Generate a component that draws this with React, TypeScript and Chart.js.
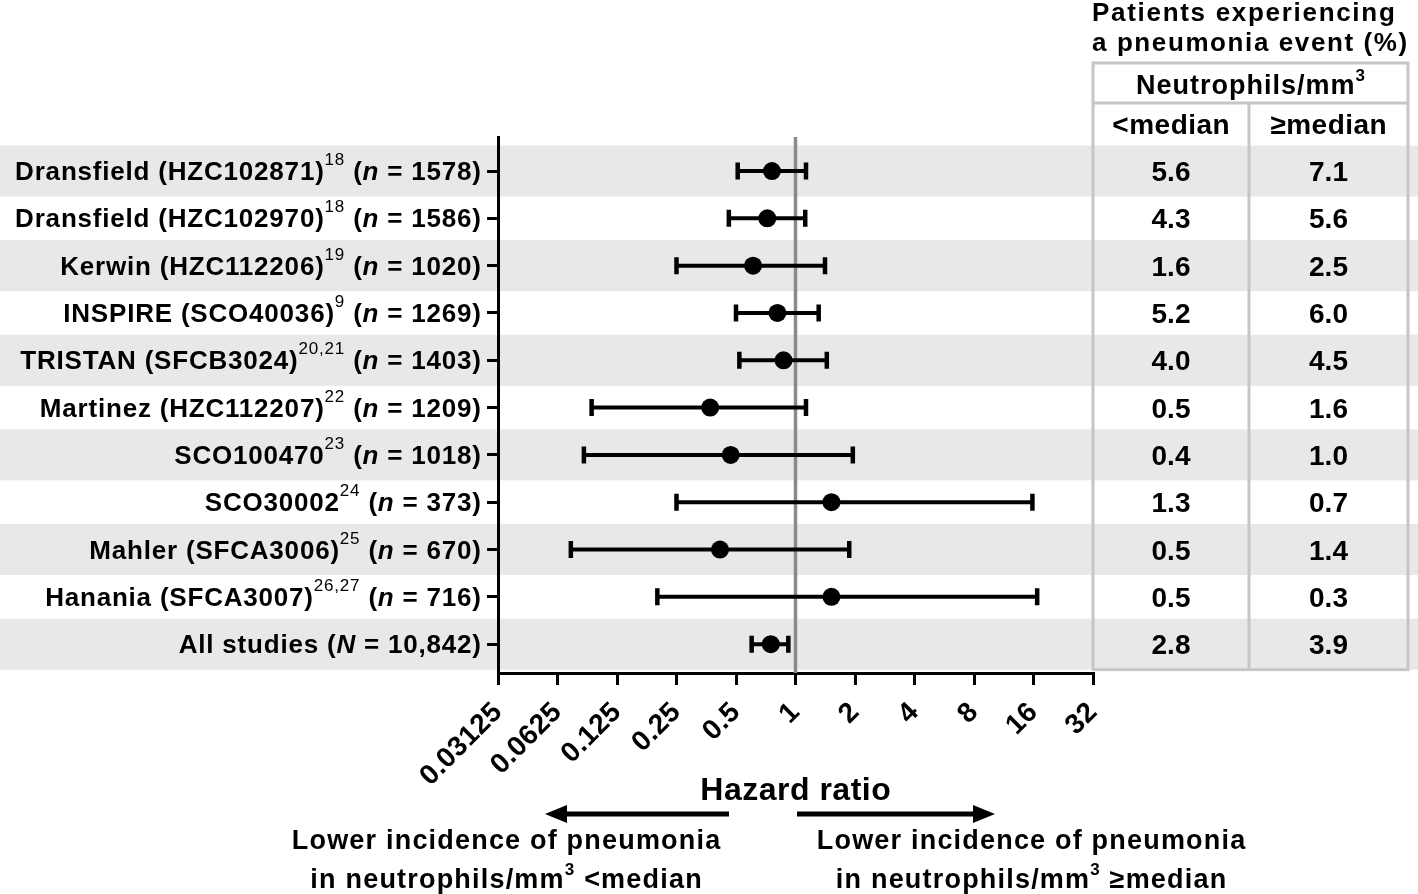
import React, { useEffect, useRef } from 'react';
import { Chart, registerables } from 'chart.js';

Chart.register(...registerables);

const FONT = '"Liberation Sans", Arial, Helvetica, sans-serif';

// ---- data ----
const studyNames = [
  'Dransfield (HZC102871)',
  'Dransfield (HZC102970)',
  'Kerwin (HZC112206)',
  'INSPIRE (SCO40036)',
  'TRISTAN (SFCB3024)',
  'Martinez (HZC112207)',
  'SCO100470',
  'SCO30002',
  'Mahler (SFCA3006)',
  'Hanania (SFCA3007)',
  'All studies',
];
const studyRefs = ['18', '18', '19', '9', '20,21', '22', '23', '24', '25', '26,27', ''];
const sampleSymbol = ['n', 'n', 'n', 'n', 'n', 'n', 'n', 'n', 'n', 'n', 'N'];
const sampleSize = ['1578', '1586', '1020', '1269', '1403', '1209', '1018', '373', '670', '716', '10,842'];

const hazardRatio = [0.76, 0.72, 0.61, 0.81, 0.87, 0.37, 0.47, 1.52, 0.415, 1.52, 0.75];
const ciLower = [0.51, 0.46, 0.25, 0.5, 0.52, 0.093, 0.085, 0.25, 0.073, 0.2, 0.6];
const ciUpper = [1.13, 1.12, 1.41, 1.31, 1.44, 1.13, 1.95, 15.8, 1.87, 16.7, 0.92];

const pctBelowMedian = [5.6, 4.3, 1.6, 5.2, 4.0, 0.5, 0.4, 1.3, 0.5, 0.5, 2.8];
const pctAboveMedian = [7.1, 5.6, 2.5, 6.0, 4.5, 1.6, 1.0, 0.7, 1.4, 0.3, 3.9];

const xTickValues = [0.03125, 0.0625, 0.125, 0.25, 0.5, 1, 2, 4, 8, 16, 32];
const xTickLabels = ['0.03125', '0.0625', '0.125', '0.25', '0.5', '1', '2', '4', '8', '16', '32'];

const xTitle = 'Hazard ratio';
const tableTitle = ['Patients experiencing', 'a pneumonia event (%)'];
const tableGroup = 'Neutrophils/mm';
const tableCols = ['<median', '\u2265median'];
const leftNoteLines = ['Lower incidence of pneumonia', 'in neutrophils/mm', ' <median'];
const rightNoteLines = ['Lower incidence of pneumonia', 'in neutrophils/mm', ' \u2265median'];

type Seg = { t: string; size: number; italic?: boolean; regular?: boolean; dy?: number };

function segFont(s: Seg) {
  return `${s.italic ? 'italic ' : ''}${s.regular ? 'normal' : 'bold'} ${s.size}px ${FONT}`;
}

function drawRich(
  ctx: CanvasRenderingContext2D,
  segs: Seg[],
  x: number,
  y: number,
  align: 'left' | 'right' | 'center',
  spacing: number
) {
  (ctx as any).letterSpacing = spacing + 'px';
  ctx.textAlign = 'left';
  ctx.textBaseline = 'alphabetic';
  ctx.fillStyle = '#000';
  const widths = segs.map((s) => {
    ctx.font = segFont(s);
    return ctx.measureText(s.t).width;
  });
  const total = widths.reduce((a, b) => a + b, 0) - spacing;
  let cx = align === 'right' ? x - total : align === 'center' ? x - total / 2 : x;
  segs.forEach((s, i) => {
    ctx.font = segFont(s);
    ctx.fillText(s.t, cx, y + (s.dy || 0));
    cx += widths[i];
  });
}

function arrow(ctx: CanvasRenderingContext2D, x0: number, x1: number, y: number) {
  const dir = Math.sign(x1 - x0);
  const head = 22;
  ctx.strokeStyle = '#000';
  ctx.fillStyle = '#000';
  ctx.lineWidth = 5;
  ctx.beginPath();
  ctx.moveTo(x0, y);
  ctx.lineTo(x1 - dir * head, y);
  ctx.stroke();
  ctx.beginPath();
  ctx.moveTo(x1, y);
  ctx.lineTo(x1 - dir * head, y - 9);
  ctx.lineTo(x1 - dir * head, y + 9);
  ctx.closePath();
  ctx.fill();
}

const forestPlugin = {
  id: 'forest',
  beforeDraw(chart: any) {
    const { ctx, width } = chart;
    const ys = chart.scales.y;
    ctx.save();
    ctx.fillStyle = '#fff';
    ctx.fillRect(0, 0, chart.width, chart.height);
    ctx.fillStyle = '#e8e8e8';
    studyNames.forEach((_, i) => {
      if (i % 2 === 0) {
        const py = ys.getPixelForValue(i);
        ctx.fillRect(0, py - 25.5, width, 51);
      }
    });
    ctx.restore();
    ctx.letterSpacing = '0.3px';
  },
  beforeDatasetsDraw(chart: any) {
    const { ctx, chartArea } = chart;
    const xs = chart.scales.x;
    const ys = chart.scales.y;
    ctx.save();
    // reference line at HR = 1
    const x1 = xs.getPixelForValue(1);
    ctx.strokeStyle = '#8a8a8a';
    ctx.lineWidth = 3.5;
    ctx.beginPath();
    ctx.moveTo(x1, chartArea.top);
    ctx.lineTo(x1, chartArea.bottom);
    ctx.stroke();
    // confidence intervals
    ctx.strokeStyle = '#000';
    hazardRatio.forEach((_, i) => {
      const py = ys.getPixelForValue(i);
      const xl = xs.getPixelForValue(ciLower[i]);
      const xh = xs.getPixelForValue(ciUpper[i]);
      ctx.lineWidth = 4;
      ctx.beginPath();
      ctx.moveTo(xl, py);
      ctx.lineTo(xh, py);
      ctx.stroke();
      ctx.lineWidth = 4.5;
      ctx.beginPath();
      ctx.moveTo(xl, py - 8.5);
      ctx.lineTo(xl, py + 8.5);
      ctx.moveTo(xh, py - 8.5);
      ctx.lineTo(xh, py + 8.5);
      ctx.stroke();
    });
    ctx.restore();
  },
  afterDraw(chart: any) {
    const { ctx, chartArea } = chart;
    const xs = chart.scales.x;
    const ys = chart.scales.y;
    ctx.save();

    // row labels
    studyNames.forEach((name, i) => {
      const py = ys.getPixelForValue(i);
      const segs: Seg[] = [{ t: name, size: 26 }];
      if (studyRefs[i]) segs.push({ t: studyRefs[i], size: 17, regular: true, dy: -15 });
      segs.push({ t: ' (', size: 26 });
      segs.push({ t: sampleSymbol[i], size: 26, italic: true });
      segs.push({ t: ' = ' + sampleSize[i] + ')', size: 26 });
      drawRich(ctx, segs, chartArea.left - 17, py + 9, 'right', 0.8);
    });

    // table
    const tLeft = chartArea.right;
    const tRight = 1408;
    const tTop = 63;
    const tBottom = ys.getPixelForValue(studyNames.length - 1) + 25.5;
    const tMid = 1249;
    const headLine = 103;
    ctx.strokeStyle = '#c6c6c6';
    ctx.lineWidth = 3;
    ctx.strokeRect(tLeft, tTop, tRight - tLeft, tBottom - tTop);
    ctx.beginPath();
    ctx.moveTo(tLeft, headLine);
    ctx.lineTo(tRight, headLine);
    ctx.moveTo(tMid, headLine);
    ctx.lineTo(tMid, tBottom);
    ctx.stroke();

    drawRich(ctx, [{ t: tableTitle[0], size: 26 }], tLeft - 1, 21, 'left', 1.7);
    drawRich(ctx, [{ t: tableTitle[1], size: 26 }], tLeft - 1, 51, 'left', 1.6);
    drawRich(
      ctx,
      [
        { t: tableGroup, size: 27 },
        { t: '3', size: 17, dy: -13 },
      ],
      (tLeft + tRight) / 2,
      94,
      'center',
      1.0
    );
    const c1 = (tLeft + tMid) / 2;
    const c2 = (tMid + tRight) / 2;
    drawRich(ctx, [{ t: tableCols[0], size: 28 }], c1, 134, 'center', 0.5);
    drawRich(ctx, [{ t: tableCols[1], size: 28 }], c2, 134, 'center', 0.5);
    pctBelowMedian.forEach((v, i) => {
      const py = ys.getPixelForValue(i);
      drawRich(ctx, [{ t: v.toFixed(1), size: 28 }], c1, py + 10, 'center', 0);
      drawRich(ctx, [{ t: pctAboveMedian[i].toFixed(1), size: 28 }], c2, py + 10, 'center', 0);
    });

    // axis title
    const xOne = xs.getPixelForValue(1);
    drawRich(ctx, [{ t: xTitle, size: 32 }], xOne, 800, 'center', 0.5);

    // direction arrows
    arrow(ctx, 729, 545, 814);
    arrow(ctx, 797, 995, 814);

    drawRich(ctx, [{ t: leftNoteLines[0], size: 27 }], 506, 849, 'center', 1.2);
    drawRich(
      ctx,
      [
        { t: leftNoteLines[1], size: 27 },
        { t: '3', size: 17, dy: -13 },
        { t: leftNoteLines[2], size: 27 },
      ],
      506,
      888,
      'center',
      1.2
    );
    drawRich(ctx, [{ t: rightNoteLines[0], size: 27 }], 1031, 849, 'center', 1.2);
    drawRich(
      ctx,
      [
        { t: rightNoteLines[1], size: 27 },
        { t: '3', size: 17, dy: -13 },
        { t: rightNoteLines[2], size: 27 },
      ],
      1031,
      888,
      'center',
      1.2
    );
    ctx.restore();
  },
};

export default function App() {
  const ref = useRef<HTMLCanvasElement>(null);
  useEffect(() => {
    document.body.style.margin = '0';
    const canvas = ref.current!;
    const chart = new Chart(canvas, {
      type: 'scatter',
      data: {
        datasets: [
          {
            data: hazardRatio.map((v, i) => ({ x: v, y: i })),
            pointRadius: 9,
            pointHoverRadius: 9,
            backgroundColor: '#000',
            borderColor: '#000',
            borderWidth: 0,
          },
        ],
      },
      options: {
        animation: false,
        responsive: false,
        events: [],
        layout: { padding: { left: 0, top: 137, right: 325, bottom: 0 } },
        plugins: { legend: { display: false }, tooltip: { enabled: false } },
        scales: {
          x: {
            type: 'logarithmic',
            position: 'bottom',
            min: xTickValues[0],
            max: xTickValues[xTickValues.length - 1],
            afterBuildTicks: (s: any) => {
              s.ticks = xTickValues.map((v) => ({ value: v }));
            },
            afterFit: (s: any) => {
              s.height = 221;
            },
            ticks: {
              autoSkip: false,
              minRotation: 45,
              maxRotation: 45,
              padding: 11,
              color: '#000',
              font: { size: 28, weight: 'bold', family: FONT },
              callback: (_v: any, idx: number) => xTickLabels[idx],
            },
            grid: { drawOnChartArea: false, drawTicks: true, tickLength: 12, lineWidth: 3, color: '#000' },
            border: { display: true, width: 3, color: '#000' },
          },
          y: {
            type: 'linear',
            reverse: true,
            min: -0.72,
            max: 10.61,
            afterBuildTicks: (s: any) => {
              s.ticks = studyNames.map((_, i) => ({ value: i }));
            },
            afterFit: (s: any) => {
              s.width = 498;
            },
            ticks: { display: false },
            grid: { drawOnChartArea: false, drawTicks: true, tickLength: 11, lineWidth: 3, color: '#000' },
            border: { display: true, width: 3, color: '#000' },
          },
        },
      } as any,
      plugins: [forestPlugin],
    });
    return () => chart.destroy();
  }, []);
  return (
    <div style={{ position: 'absolute', left: 0, top: 0, width: 1418, height: 894 }}>
      <canvas ref={ref} width={1418} height={894} />
    </div>
  );
}
